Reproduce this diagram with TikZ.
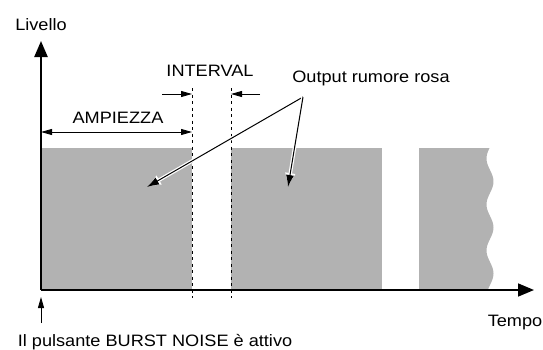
\documentclass[tikz,border=0pt]{standalone}
\usepackage{fontspec}
\setmainfont{Liberation Sans}[FakeStretch=1.1]
\usetikzlibrary{arrows.meta, positioning}

\begin{document}
\begin{tikzpicture}[
    x=1pt, y=-1pt,
    label/.style = {font=\fontsize{16.5}{19}\selectfont, inner sep=0pt, anchor=base},
    burst/.style = {fill=black!30},
    axis/.style = {draw=black, -{Triangle[length=16pt,width=13pt]}},
    span/.style = {draw=black, line width=0.9pt, -{Triangle[length=11pt,width=6pt]}},
    marker/.style = {draw=black, line width=0.8pt, dash pattern=on 3pt off 3.5pt},
    pointer/.style = {draw=black, line width=1pt, -{Latex[length=12pt,width=8pt]}, preaction={draw=white, line width=3.5pt, -{Latex[length=14pt,width=11pt]}}}
]
\useasboundingbox (0,0) rectangle (543,349);

% bursts of pink noise
\fill[burst] (41,148) rectangle (192,290);
\fill[burst] (231,148) rectangle (382,290);
\fill[burst] (419,148) -- plot[domain=148:290, samples=80] ({490+3.5*sin(7.826*(\x-170))}, \x) -- (419,290) -- cycle;

% axes
\coordinate (O) at (41,290);
\coordinate (ytop) at (41,41);
\coordinate (xend) at (534,290);
\draw[axis, line width=1.6pt] (O) -- (xend);
\draw[axis, line width=2.4pt] (O) -- (ytop);

% interval markers
\coordinate (d1t) at (192,88);
\coordinate (d1b) at (192,298);
\coordinate (d2t) at (231,88);
\coordinate (d2b) at (231,298);
\draw[marker] (d1t) -- (d1b);
\draw[marker] (d2t) -- (d2b);

\coordinate (i1) at (162,94);
\coordinate (i2) at (260,94);
\draw[span] (i1) -- (i1 -| d1t);
\draw[span] (i2) -- (i2 -| d2t);
\draw[span, {Triangle[length=11pt,width=6pt]}-{Triangle[length=11pt,width=6pt]}] (41,132) -- (192,132);

% labels
\node (livello) [label] at (41,30) {Livello};
\node (interval) [label] at (210,76) {INTERVAL};
\node (ampiezza) [label] at (118,123) {AMPIEZZA};
\node (output) [label] at (371,82) {Output rumore rosa};
\node (tempo) [label] at (515,326.5) {Tempo};
\node (burstkey) [label] at (155,346) {Il pulsante BURST NOISE è attivo};

% pointers
\coordinate (src) at (303,97);
\coordinate (tip1) at (147,187);
\coordinate (tip2) at (288,187);
\draw[pointer] (src) -- (tip1);
\draw[pointer] (src) -- (tip2);

\coordinate (keytail) at (41,323);
\coordinate (keytip) at (41,297);
\draw[draw=black, line width=0.9pt, -{Triangle[length=11pt,width=6pt]}] (keytail) -- (keytip);
\end{tikzpicture}
\end{document}
